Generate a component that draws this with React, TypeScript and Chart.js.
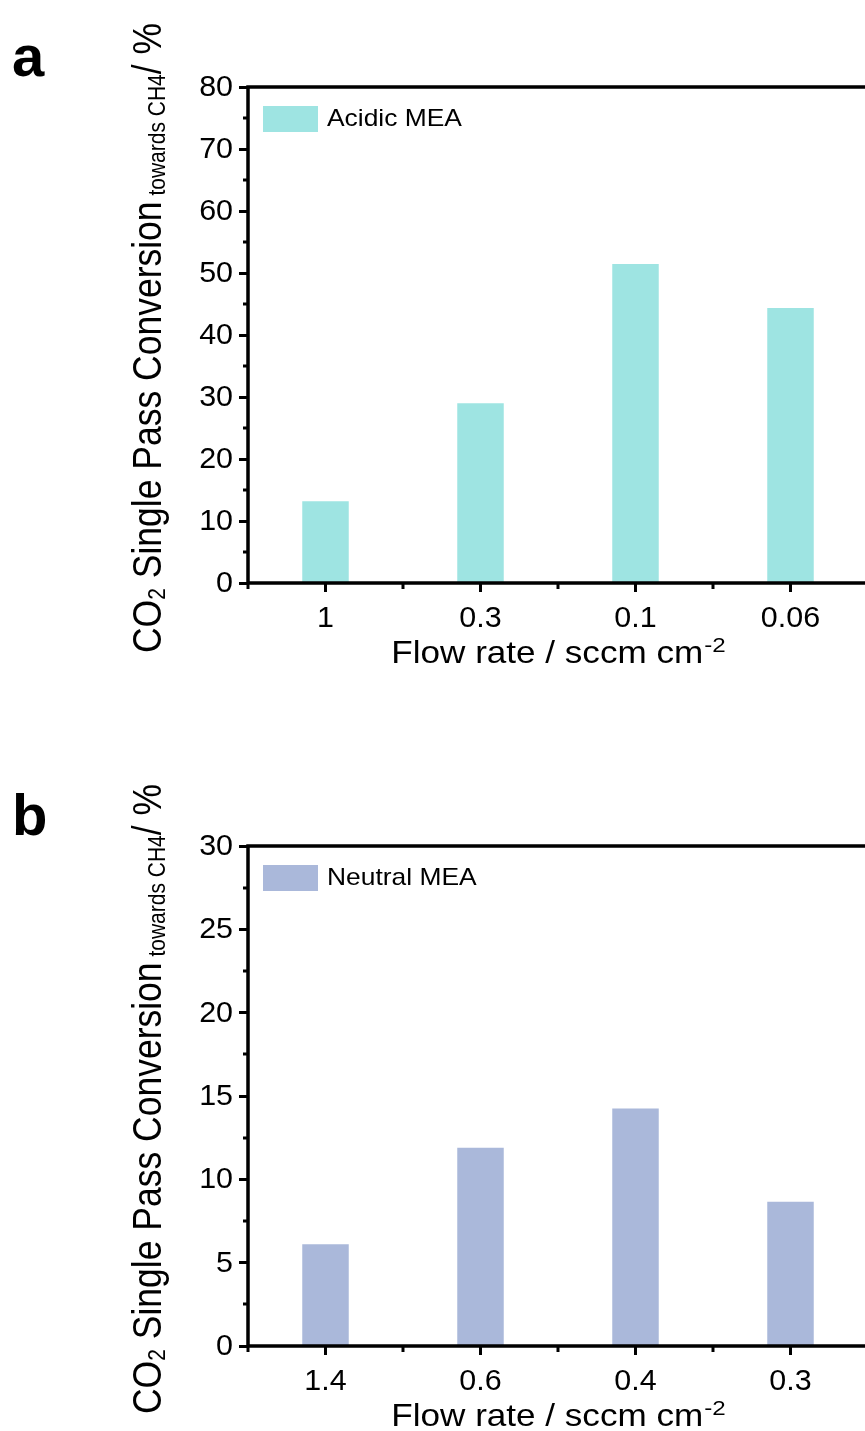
import React, { useEffect, useRef } from "react";
import { Chart, registerables } from "chart.js";

Chart.register(...registerables);

// ---- data ----
const acidicCategories = ["1", "0.3", "0.1", "0.06"];
const acidicValues = [13.2, 29.0, 51.45, 44.35];
const acidicLabel = "Acidic MEA";
const acidicColor = "#9EE4E2";
const acidicYMax = 80;
const acidicYStep = 10;

const neutralCategories = ["1.4", "0.6", "0.4", "0.3"];
const neutralValues = [6.1, 11.9, 14.25, 8.65];
const neutralLabel = "Neutral MEA";
const neutralColor = "#AAB8DA";
const neutralYMax = 30;
const neutralYStep = 5;

const xTitleMain = "Flow rate / sccm cm";
const xTitleSup = "-2";
const yTitleParts: [string, boolean][] = [
  ["CO", false],
  ["2", true],
  [" Single Pass Conversion", false],
  [" towards CH4", true],
  ["/ %", false],
];

const FONT = "'Liberation Sans', Arial, Helvetica, sans-serif";
const TITLE_STRETCH = 1.15;
const TICK_STRETCH = 1.05;

function stretchedText(
  ctx: CanvasRenderingContext2D,
  text: string,
  x: number,
  y: number,
  sx: number
) {
  ctx.save();
  ctx.translate(x, y);
  ctx.scale(sx, 1);
  ctx.fillText(text, 0, 0);
  ctx.restore();
}

function makeDecor(letter: string, minorStep: number) {
  return {
    id: "decor" + letter,
    afterDraw(chart: any) {
      const ctx = chart.ctx as CanvasRenderingContext2D;
      const a = chart.chartArea;
      const xs = chart.scales.x;
      const ys = chart.scales.y;
      ctx.save();
      ctx.strokeStyle = "#000";
      ctx.fillStyle = "#000";
      ctx.lineWidth = 3;
      // minor y ticks
      for (let v = ys.min + minorStep; v < ys.max; v += 2 * minorStep) {
        const py = Math.round(ys.getPixelForValue(v));
        ctx.beginPath();
        ctx.moveTo(a.left - 5, py);
        ctx.lineTo(a.left, py);
        ctx.stroke();
      }
      // minor x ticks
      const n = chart.data.labels.length;
      for (let i = 0; i <= n; i++) {
        const px = Math.round(xs.getPixelForValue(i - 0.5));
        ctx.beginPath();
        ctx.moveTo(px, a.bottom);
        ctx.lineTo(px, a.bottom + 6);
        ctx.stroke();
      }
      // frame
      ctx.lineWidth = 3.5;
      ctx.strokeRect(a.left, a.top, a.right - a.left, a.bottom - a.top);

      // tick labels (from the scales' own ticks)
      ctx.font = `29px ${FONT}`;
      ctx.textAlign = "right";
      ctx.textBaseline = "middle";
      ys.ticks.forEach((t: any, i: number) => {
        const py = ys.getPixelForTick(i);
        stretchedText(ctx, String(t.label), a.left - 15, py + 1, TICK_STRETCH);
      });
      ctx.textAlign = "center";
      ctx.textBaseline = "alphabetic";
      xs.ticks.forEach((t: any, i: number) => {
        const px = xs.getPixelForTick(i);
        stretchedText(ctx, String(xs.getLabelForValue(t.value)), px, a.bottom + 44, TICK_STRETCH);
      });

      // legend
      const ds = chart.data.datasets[0];
      ctx.fillStyle = ds.backgroundColor;
      ctx.fillRect(a.left + 15, a.top + 19, 55, 26);
      ctx.fillStyle = "#000";
      ctx.font = `24px ${FONT}`;
      ctx.textAlign = "left";
      ctx.textBaseline = "alphabetic";
      stretchedText(ctx, ds.label, a.left + 79, a.top + 39, 1.1);

      // x title
      const mainF = `30.5px ${FONT}`;
      const supF = `21px ${FONT}`;
      ctx.font = mainF;
      const w1 = ctx.measureText(xTitleMain).width * TITLE_STRETCH;
      ctx.font = supF;
      const w2 = ctx.measureText(xTitleSup).width * TITLE_STRETCH;
      const cx = (a.left + a.right) / 2;
      const bx = cx - (w1 + w2) / 2;
      const by = a.bottom + 80;
      ctx.font = mainF;
      stretchedText(ctx, xTitleMain, bx, by, TITLE_STRETCH);
      ctx.font = supF;
      stretchedText(ctx, xTitleSup, bx + w1 + 1, by - 11, TITLE_STRETCH);

      // y title (rotated)
      const yMain = `35.5px ${FONT}`;
      const ySub = `21px ${FONT}`;
      let total = 0;
      const widths: number[] = [];
      for (const [t, sub] of yTitleParts) {
        ctx.font = sub ? ySub : yMain;
        const w = ctx.measureText(t).width;
        widths.push(w);
        total += w;
      }
      ctx.save();
      ctx.translate(161, (a.top + a.bottom) / 2 + 3);
      ctx.rotate(-Math.PI / 2);
      ctx.scale(1, 1.12);
      let px = -total / 2;
      yTitleParts.forEach(([t, sub], i) => {
        ctx.font = sub ? ySub : yMain;
        ctx.fillText(t, px, sub ? 4 : 0);
        px += widths[i];
      });
      ctx.restore();

      // panel letter
      ctx.font = `bold 58px ${FONT}`;
      ctx.textAlign = "left";
      ctx.fillText(letter, 12, 76);
      ctx.restore();
    },
  };
}

function Panel(props: {
  letter: string;
  labels: string[];
  values: number[];
  label: string;
  color: string;
  yMax: number;
  yStep: number;
  top: number;
  height: number;
  plotBottom: number;
}) {
  const ref = useRef<HTMLCanvasElement | null>(null);
  useEffect(() => {
    if (!ref.current) return;
    const chart = new Chart(ref.current, {
      type: "bar",
      data: {
        labels: props.labels,
        datasets: [
          {
            label: props.label,
            data: props.values,
            backgroundColor: props.color,
            borderWidth: 0,
            barPercentage: 0.3,
            categoryPercentage: 1,
          },
        ],
      },
      options: {
        responsive: false,
        animation: false,
        layout: { padding: { top: 87, right: 12, left: 0, bottom: 0 } },
        plugins: { legend: { display: false }, tooltip: { enabled: false } },
        scales: {
          x: {
            type: "category",
            offset: true,
            grid: {
              offset: false,
              drawOnChartArea: false,
              drawTicks: true,
              tickLength: 9,
              tickWidth: 3,
              tickColor: "#000",
            },
            border: { display: false },
            ticks: { display: false },
            afterFit: (s: any) => {
              s.height = props.height - props.plotBottom;
            },
          },
          y: {
            min: 0,
            max: props.yMax,
            grid: {
              drawOnChartArea: false,
              drawTicks: true,
              tickLength: 9,
              tickWidth: 3,
              tickColor: "#000",
            },
            border: { display: false },
            ticks: { display: false, stepSize: props.yStep },
            afterFit: (s: any) => {
              s.width = 248;
            },
          },
        },
      },
      plugins: [makeDecor(props.letter, props.yStep / 2)],
    } as any);
    return () => chart.destroy();
  }, []);
  return (
    <canvas
      ref={ref}
      width={880}
      height={props.height}
      style={{ position: "absolute", left: 0, top: props.top, display: "block" }}
    />
  );
}

export default function App() {
  return (
    <div
      style={{
        position: "absolute",
        left: 0,
        top: 0,
        width: 865,
        height: 1431,
        overflow: "hidden",
        background: "#fff",
      }}
    >
      <Panel
        letter="a"
        labels={acidicCategories}
        values={acidicValues}
        label={acidicLabel}
        color={acidicColor}
        yMax={acidicYMax}
        yStep={acidicYStep}
        top={0}
        height={700}
        plotBottom={583}
      />
      <Panel
        letter="b"
        labels={neutralCategories}
        values={neutralValues}
        label={neutralLabel}
        color={neutralColor}
        yMax={neutralYMax}
        yStep={neutralYStep}
        top={759}
        height={672}
        plotBottom={587}
      />
    </div>
  );
}
